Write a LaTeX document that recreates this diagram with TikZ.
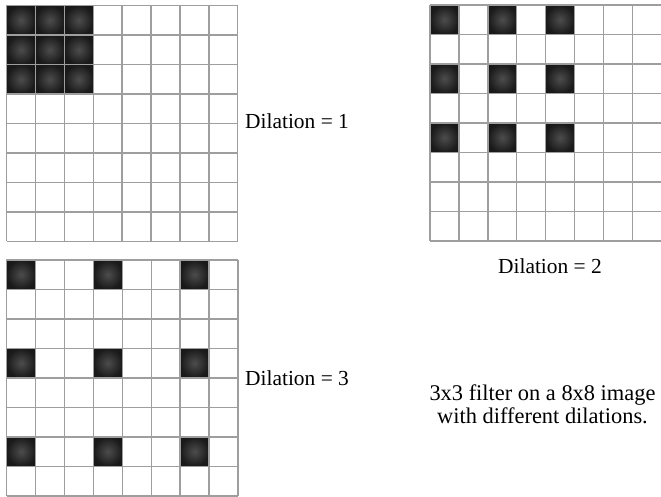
\documentclass[tikz,border=0pt]{standalone}
\usepackage{fontspec}
\setmainfont{Liberation Serif}
\usetikzlibrary{positioning}

\begin{document}
\begin{tikzpicture}[x=1bp, y=-1bp,
    cellline/.style={draw=black!38, line width=1.4bp},
    tap/.style={inner color=black!70, outer color=black!90},
    lbl/.style={inner sep=0pt, font=\fontsize{21.5}{24}\selectfont},
]
\useasboundingbox (0,0) rectangle (661,497);

% Filter taps first, then the 8x8 image grid over them
\foreach \ox/\oy/\d in {6.5/5.5/1, 430/5/2, 6.7/259.8/3} {
  \foreach \i in {0,1,2}
    \foreach \j in {0,1,2}
      \shade[tap] ({\ox+\i*\d*28.9}, {\oy+\j*\d*29.5}) rectangle ++(28.9,29.5);
  \foreach \k in {0,...,8} {
    \draw[cellline] ({\ox+\k*28.9}, \oy) -- ++(0,236);
    \draw[cellline] (\ox, {\oy+\k*29.5}) -- ++(231.2,0);
  }
}

% Labels
\node[lbl, anchor=base west] (dil1) at (245,128.3) {Dilation = 1};
\node[lbl, anchor=base] (dil2) at (550,273) {Dilation = 2};
\node[lbl, anchor=base west] (dil3) at (245,385) {Dilation = 3};
\node[lbl, anchor=base, align=center, font=\fontsize{22.5}{23}\selectfont] (note) at (542.5,423)
    {3x3 filter on a 8x8 image\\with different dilations.};
\end{tikzpicture}
\end{document}
